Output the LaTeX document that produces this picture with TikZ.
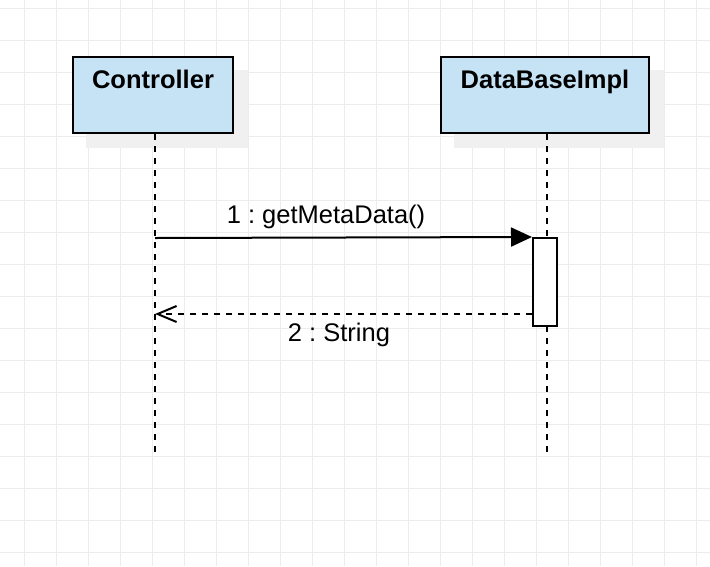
\documentclass[tikz,border=0pt]{standalone}
\usepackage{fontspec}
\setmainfont{Liberation Sans}
\usetikzlibrary{arrows.meta}
\definecolor{gridc}{RGB}{236,236,236}
\definecolor{shadowc}{RGB}{240,240,240}
\definecolor{boxc}{RGB}{198,226,245}
\tikzset{
  lifebox/.style={draw=black, fill=boxc, line width=2pt, minimum width=160pt, inner sep=0pt},
  shadowbox/.style={fill=shadowc},
  title/.style={font=\fontsize{25.5}{30}\selectfont\bfseries, anchor=base, inner sep=0pt},
  lbl/.style={font=\fontsize{25.5}{30}\selectfont, anchor=base, inner sep=0pt},
  lifeline/.style={draw=black, line width=2pt, dash pattern=on 6pt off 6pt},
  actbox/.style={draw=black, fill=white, line width=2pt, minimum width=24pt, minimum height=88pt, inner sep=0pt},
  msgline/.style={draw=black, line width=2pt},
  retline/.style={draw=black, line width=2pt, dash pattern=on 6pt off 6pt},
}
\begin{document}
\frenchspacing
\begin{tikzpicture}[x=1pt,y=-1pt]
\useasboundingbox (0,0) rectangle (710,566);
\fill[white] (0,0) rectangle (710,566);
\foreach \x in {24,56,...,696} \draw[gridc, line width=1pt] (\x,0) -- (\x,566);
\foreach \y in {8,40,...,552} \draw[gridc, line width=1pt] (0,\y) -- (710,\y);
% shadows
\fill[shadowc] (86,70) rectangle (248,148);
\fill[shadowc] (454,70) rectangle (664,148);
% boxes
\node[lifebox, minimum width=160pt, minimum height=76pt] (ctrl) at (153,95) {};
\node[lifebox, minimum width=208pt, minimum height=76pt] (dbi) at (545,95) {};
\node[title] (ctrlT) at (153,88.5) {Controller};
\node[title] (dbiT) at (545,88.5) {DataBaseImpl};
% lifelines
\coordinate (ctrlEnd) at (155,453);
\coordinate (dbiEnd) at (547,453);
\draw[lifeline] (ctrl.south -| ctrlEnd) -- (ctrlEnd);
\draw[lifeline] (dbi.south -| dbiEnd) -- (dbiEnd);
% activation
\node[actbox] (act) at (545,282) {};
% messages
\coordinate (m1start) at (155,238);
\draw[msgline, -{Triangle[length=21pt,width=19pt]}] (m1start) -- (act.north west);
\coordinate (m2end) at (155,314);
\draw[retline, -{Straight Barb[length=19pt,width=16pt]}] (act.west |- m2end) -- (m2end);
\node[lbl] (m1) at (326,223) {1 : getMetaData()};
\node[lbl] (m2) at (339,341) {2 : String};
\end{tikzpicture}
\end{document}
